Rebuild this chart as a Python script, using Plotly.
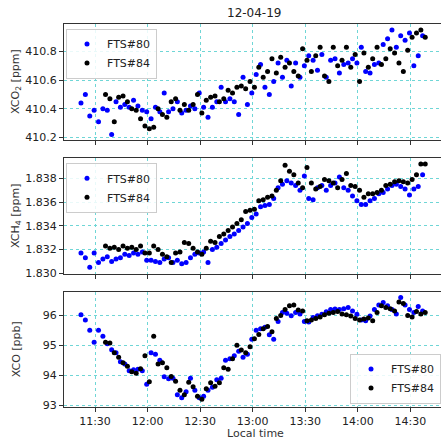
import pandas as pd
import plotly.graph_objects as go

# ---------------- data ----------------
# measurement times, minutes after 11:00 local time (12 April 2019)
t80 = [22, 24.5, 27, 29.5, 32, 34.5, 37, 39.5, 42, 44.5, 47, 49.5, 52, 54.5, 57, 59.5,
       62, 64.5, 67, 69.5, 72, 74.5, 77, 79.5, 82, 84.5, 87, 89.5, 92, 94.5, 97, 99.5,
       102, 104.5, 107, 109.5, 112, 114.5, 117, 119.5, 122, 124.5, 127, 129.5, 132, 134.5,
       137, 139.5, 142, 144.5, 147, 149.5, 152, 154.5, 157, 159.5, 162, 164.5, 167, 169.5,
       172, 174.5, 177, 179.5, 182, 184.5, 187, 189.5, 192, 194.5, 197, 199.5, 202, 204.5,
       207, 209.5, 212, 214.5, 217]
t84 = [36, 38.5, 41, 43.5, 46, 48.5, 51, 53.5, 56, 58.5, 61, 63.5, 66, 68.5, 71, 73.5,
       76, 78.5, 81, 83.5, 86, 88.5, 91, 93.5, 96, 98.5, 101, 103.5, 106, 108.5, 111, 113.5,
       116, 118.5, 121, 123.5, 126, 128.5, 131, 133.5, 136, 138.5, 141, 143.5, 146, 148.5,
       151, 153.5, 156, 158.5, 161, 163.5, 166, 168.5, 171, 173.5, 176, 178.5, 181, 183.5,
       186, 188.5, 191, 193.5, 196, 198.5, 201, 203.5, 206, 208.5, 211, 213.5, 216, 218.5]

xco2_80 = [410.44, 410.50, 410.35, 410.39, 410.31, 410.40, 410.39, 410.22, 410.45, 410.41,
           410.43, 410.41, 410.46, 410.42, 410.39, 410.38, 410.33, 410.41, 410.38, 410.51,
           410.38, 410.40, 410.45, 410.37, 410.39, 410.42, 410.40, 410.51, 410.41, 410.34,
           410.41, 410.45, 410.55, 410.45, 410.47, 410.45, 410.36, 410.62, 410.43, 410.51,
           410.64, 410.71, 410.55, 410.50, 410.59, 410.72, 410.62, 410.74, 410.56, 410.72,
           410.62, 410.70, 410.77, 410.74, 410.67, 410.78, 410.62, 410.74, 410.75, 410.65,
           410.71, 410.72, 410.75, 410.72, 410.83, 410.66, 410.65, 410.71, 410.72, 410.85,
           410.89, 410.95, 410.83, 410.91, 410.88, 410.93, 410.70, 410.77, 410.91]
xco2_84 = [410.50, 410.47, 410.31, 410.48, 410.49, 410.45, 410.40, 410.39, 410.33, 410.28,
           410.26, 410.27, 410.40, 410.36, 410.34, 410.45, 410.47, 410.39, 410.43, 410.39,
           410.43, 410.50, 410.37, 410.46, 410.48, 410.49, 410.45, 410.47, 410.53, 410.51,
           410.55, 410.56, 410.54, 410.59, 410.55, 410.69, 410.62, 410.66, 410.75, 410.65,
           410.76, 410.69, 410.72, 410.66, 410.63, 410.82, 410.74, 410.66, 410.77, 410.83,
           410.63, 410.59, 410.83, 410.70, 410.74, 410.83, 410.69, 410.78, 410.59, 410.79,
           410.69, 410.75, 410.83, 410.71, 410.75, 410.82, 410.79, 410.72, 410.66, 410.81,
           410.90, 410.93, 410.95, 410.90]

xch4_80 = [1.8317, 1.8313, 1.8305, 1.8317, 1.8309, 1.8312, 1.8314, 1.8310, 1.8312, 1.8313,
           1.8316, 1.8315, 1.8317, 1.8316, 1.8318, 1.8311, 1.8311, 1.8310, 1.8309, 1.8312,
           1.8313, 1.8309, 1.8311, 1.8308, 1.8309, 1.8313, 1.8316, 1.8317, 1.8318, 1.8309,
           1.8320, 1.8322, 1.8325, 1.8328, 1.8331, 1.8333, 1.8336, 1.8339, 1.8342, 1.8347,
           1.8350, 1.8356, 1.8357, 1.8358, 1.8363, 1.8372, 1.8375, 1.8378, 1.8376, 1.8374,
           1.8370, 1.8382, 1.8363, 1.8362, 1.8372, 1.8374, 1.8370, 1.8374, 1.8376, 1.8381,
           1.8372, 1.8370, 1.8365, 1.8361, 1.8358, 1.8358, 1.8361, 1.8363, 1.8367, 1.8368,
           1.8371, 1.8374, 1.8375, 1.8373, 1.8371, 1.8366, 1.8371, 1.8373, 1.8383]
xch4_84 = [1.8323, 1.8321, 1.8322, 1.8320, 1.8323, 1.8321, 1.8322, 1.8320, 1.8323, 1.8317,
           1.8317, 1.8323, 1.8320, 1.8316, 1.8314, 1.8309, 1.8317, 1.8318, 1.8326, 1.8325,
           1.8321, 1.8318, 1.8316, 1.8321, 1.8327, 1.8326, 1.8331, 1.8333, 1.8336, 1.8339,
           1.8342, 1.8345, 1.8352, 1.8353, 1.8354, 1.8361, 1.8362, 1.8364, 1.8365, 1.8370,
           1.8378, 1.8391, 1.8386, 1.8383, 1.8376, 1.8372, 1.8389, 1.8376, 1.8371, 1.8373,
           1.8379, 1.8378, 1.8376, 1.8372, 1.8379, 1.8384, 1.8374, 1.8373, 1.8370, 1.8364,
           1.8367, 1.8367, 1.8368, 1.8370, 1.8374, 1.8375, 1.8377, 1.8378, 1.8377, 1.8376,
           1.8379, 1.8383, 1.8392, 1.8392]

xco_80 = [96.02, 95.85, 95.50, 95.10, 95.50, 95.30, 95.05, 94.85, 94.75, 94.45,
          94.38, 94.15, 94.18, 94.20, 94.15, 93.70, 94.75, 94.70, 94.50, 93.95,
          93.88, 93.90, 93.35, 93.25, 93.45, 93.90, 93.50, 93.25, 93.30, 93.50,
          93.60, 93.85, 93.90, 94.50, 94.55, 94.65, 94.80, 94.60, 94.70, 95.20,
          95.50, 95.55, 95.60, 95.35, 95.20, 95.80, 96.10, 96.07, 95.99, 96.10,
          96.05, 95.80, 95.78, 95.93, 95.99, 96.04, 96.12, 96.20, 96.21, 96.20,
          96.22, 96.26, 96.15, 96.04, 95.85, 95.82, 95.98, 96.20, 96.35, 96.43,
          96.32, 96.20, 96.05, 96.60, 96.35, 96.20, 96.10, 96.30, 96.15]
xco_84 = [95.10, 95.08, 94.75, 94.60, 94.42, 94.30, 94.12, 94.07, 94.22, 94.65,
          93.78, 95.30, 94.38, 94.42, 94.25, 93.96, 93.80, 93.50, 93.35, 93.77,
          93.62, 93.30, 93.20, 93.55, 93.75, 93.63, 93.75, 94.25, 94.20, 94.55,
          95.00, 94.84, 94.75, 94.95, 95.22, 95.36, 95.55, 95.63, 95.45, 95.90,
          96.00, 96.20, 96.32, 96.35, 96.18, 96.15, 95.82, 95.85, 95.90, 95.95,
          96.02, 96.07, 96.10, 96.13, 96.05, 96.02, 95.98, 95.90, 95.85, 95.88,
          95.91, 95.82, 96.10, 96.32, 96.26, 96.22, 96.15, 96.45, 96.40, 96.00,
          95.95, 96.13, 96.05, 96.10]

labels = ["FTS#80", "FTS#84"]
colors = ["#0000ff", "#000000"]
x_ticks = ["11:30", "12:00", "12:30", "13:00", "13:30", "14:00", "14:30"]
title_text = "12-04-19"

# ---------------- figure ----------------
base = pd.Timestamp("2019-04-12 11:00")
time80 = base + pd.to_timedelta(t80, unit="m")
time84 = base + pd.to_timedelta(t84, unit="m")
tickvals = [pd.Timestamp("2019-04-12 " + s) for s in x_ticks]

W, H = 441, 448
FONT = "DejaVu Sans"

fig = go.Figure()
panels = [
    (xco2_80, xco2_84, "x", "y", "legend"),
    (xch4_80, xch4_84, "x2", "y2", "legend2"),
    (xco_80, xco_84, "x3", "y3", "legend3"),
]
for v80, v84, xa, ya, lg in panels:
    for tt, vv, lab, col in [(time80, v80, labels[0], colors[0]), (time84, v84, labels[1], colors[1])]:
        fig.add_trace(go.Scatter(x=tt, y=vv, mode="markers", name=lab,
                                 marker=dict(color=col, size=5, line=dict(width=0)),
                                 xaxis=xa, yaxis=ya, legend=lg))

def py(px):
    return 1 - px / H

dom = [(py(142), py(24)), (py(277.7), py(160)), (py(412.3), py(295.7))]
yranges = [[410.181, 410.995], [1.82994, 1.83972], [92.947, 96.79]]
ytickvals = [[410.2, 410.4, 410.6, 410.8],
             [1.830, 1.832, 1.834, 1.836, 1.838],
             [93, 94, 95, 96]]
ytickfmt = [".1f", ".3f", "d"]
xrange_ = [pd.Timestamp("2019-04-12 11:12:18"), pd.Timestamp("2019-04-12 14:47:30")]

grid = "#6fd6d6"
layout = dict(width=W, height=H, margin=dict(l=0, r=0, t=0, b=0),
              paper_bgcolor="white", plot_bgcolor="white",
              font=dict(family=FONT, size=11, color="#222"),
              showlegend=True)
for i in range(3):
    sx = "" if i == 0 else str(i + 1)
    layout["xaxis" + sx] = dict(
        domain=[64 / W, 1], range=xrange_, anchor="y" + sx,
        tickvals=tickvals, tickformat="%H:%M", showticklabels=(i == 2),
        ticks="outside", ticklen=4, tickcolor="#333",
        showline=True, mirror=True, linecolor="#333", linewidth=1,
        showgrid=True, gridcolor=grid, griddash="dot", gridwidth=1,
        zeroline=False, tickfont=dict(size=11, color="#222"))
    layout["yaxis" + sx] = dict(
        domain=list(dom[i]), range=yranges[i], anchor="x" + sx,
        tickvals=ytickvals[i], tickformat=ytickfmt[i],
        ticks="outside", ticklen=4, tickcolor="#333",
        showline=True, mirror=False, linecolor="#333", linewidth=1,
        showgrid=True, gridcolor=grid, griddash="dot", gridwidth=1,
        zeroline=False, tickfont=dict(size=11, color="#222"))

leg_common = dict(bgcolor="rgba(255,255,255,0.85)", bordercolor="#cccccc", borderwidth=1,
                  font=dict(family=FONT, size=11, color="#222"))
layout["legend"] = dict(x=66 / W, y=py(29), xanchor="left", yanchor="top", **leg_common)
layout["legend2"] = dict(x=66 / W, y=py(165), xanchor="left", yanchor="top", **leg_common)
layout["legend3"] = dict(x=1, y=py(409), xanchor="right", yanchor="bottom", **leg_common)

ylabels = ["XCO<sub>2</sub> [ppm]", "XCH<sub>4</sub> [ppm]", "XCO [ppb]"]
anns = []
for i, lab in enumerate(ylabels):
    anns.append(dict(text=lab, x=16 / W, y=(dom[i][0] + dom[i][1]) / 2, xref="paper", yref="paper",
                     xanchor="center", yanchor="middle", textangle=-90, showarrow=False,
                     font=dict(family=FONT, size=11, color="#333")))
anns.append(dict(text=title_text, x=254 / W, y=py(13), xref="paper", yref="paper",
                 xanchor="center", yanchor="middle", showarrow=False,
                 font=dict(family=FONT, size=12, color="#222")))
anns.append(dict(text="Local time", x=255 / W, y=py(439), xref="paper", yref="paper",
                 xanchor="center", yanchor="middle", showarrow=False,
                 font=dict(family=FONT, size=11, color="#333")))
layout["annotations"] = anns

fig.update_layout(**layout)
fig.write_html("out.html", config={"displayModeBar": False},
               post_script="document.body.style.margin='0';document.body.style.overflow='hidden';")
